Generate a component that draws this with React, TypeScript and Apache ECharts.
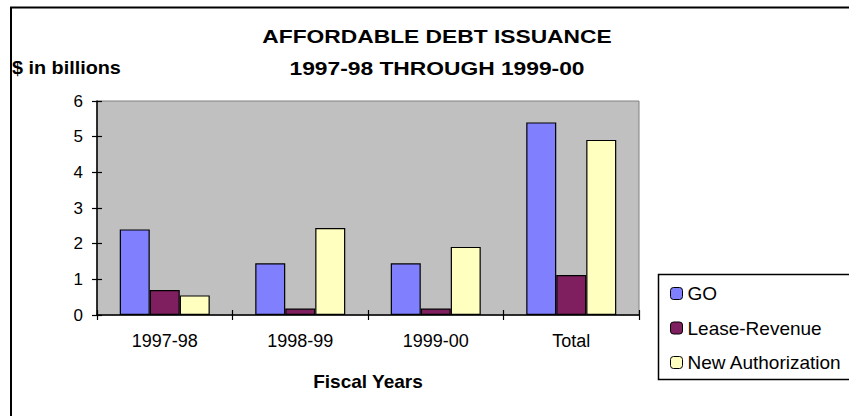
import React, { useEffect, useRef } from "react";
import * as echarts from "echarts";

const categories = ["1997-98", "1998-99", "1999-00", "Total"];
const goValues = [2.4, 1.45, 1.45, 5.4];
const leaseRevenueValues = [0.7, 0.18, 0.18, 1.12];
const newAuthorizationValues = [0.55, 2.44, 1.91, 4.91];
const seriesNames = ["GO", "Lease-Revenue", "New Authorization"];
const seriesColors = ["#8080ff", "#7f1f5f", "#ffffc0"];
const yMin = 0;
const yMax = 6;
const yInterval = 1;

const FONT = "Arial, 'Liberation Sans', sans-serif";

export default function App() {
  const ref = useRef<HTMLDivElement>(null);
  useEffect(() => {
    if (!ref.current) return;
    const chart = echarts.init(ref.current, null, { renderer: "svg" });
    const valuesList = [goValues, leaseRevenueValues, newAuthorizationValues];
    const barSeries = seriesNames.map((name, i) => ({
      name,
      type: "bar",
      xAxisIndex: 0,
      yAxisIndex: 0,
      data: valuesList[i],
      barWidth: 30,
      barGap: "0%",
      itemStyle: { color: seriesColors[i], borderColor: "#000", borderWidth: 1.2 },
    }));
    const option: any = {
      animation: false,
      backgroundColor: "#fff",
      textStyle: { fontFamily: FONT },
      grid: {
        left: 97,
        right: 210,
        top: 101,
        bottom: 101,
        show: true,
        backgroundColor: "#c0c0c0",
        borderColor: "#808080",
        borderWidth: 1,
      },
      legend: {
        orient: "vertical",
        left: 665,
        top: 279,
        itemWidth: 12,
        itemHeight: 12,
        itemGap: 15.5,
        data: seriesNames,
        itemStyle: { borderColor: "#000", borderWidth: 1 },
        textStyle: { fontSize: 19, color: "#000", fontFamily: FONT },
      },
      xAxis: [
        {
          type: "category",
          data: categories,
          position: "bottom",
          axisLine: { show: true, lineStyle: { color: "#000", width: 1.5 } },
          axisTick: { show: true, length: 5, lineStyle: { color: "#000", width: 1.2 } },
          axisLabel: { fontSize: 18, color: "#000", margin: 17, fontFamily: FONT },
          name: "Fiscal Years",
          nameLocation: "middle",
          nameGap: 57,
          nameTextStyle: { fontSize: 19, fontWeight: "bold", color: "#000", fontFamily: FONT },
          splitLine: { show: false },
        },
        {
          type: "category",
          data: categories,
          position: "bottom",
          axisLine: { show: false },
          axisTick: { show: true, inside: true, length: 5, lineStyle: { color: "#000", width: 1.2 } },
          axisLabel: { show: false },
          splitLine: { show: false },
        },
      ],
      yAxis: [
        {
          type: "value",
          position: "left",
          min: yMin,
          max: yMax,
          interval: yInterval,
          axisLine: { show: true, lineStyle: { color: "#000", width: 1.5 } },
          axisTick: { show: true, length: 5, lineStyle: { color: "#000", width: 1.2 } },
          axisLabel: { fontSize: 17, color: "#000", margin: 14, fontFamily: FONT },
          splitLine: { show: false },
        },
        {
          type: "value",
          position: "left",
          min: yMin,
          max: yMax,
          interval: yInterval,
          axisLine: { show: false },
          axisTick: { show: true, inside: true, length: 5, lineStyle: { color: "#000", width: 1.2 } },
          axisLabel: { show: false },
          splitLine: { show: false },
        },
      ],
      graphic: [
        {
          type: "rect",
          shape: { x: 11, y: 7.5, width: 900, height: 500 },
          style: { fill: "none", stroke: "#000", lineWidth: 2 },
          silent: true,
          z: -1,
        },
        {
          type: "rect",
          shape: { x: 658.5, y: 274.5, width: 300, height: 105 },
          style: { fill: "#fff", stroke: "#000", lineWidth: 1.5 },
          silent: true,
          z: -1,
        },
        {
          type: "text",
          x: 437,
          y: 36,
          scaleX: 1.2,
          style: {
            text: "AFFORDABLE DEBT ISSUANCE",
            fontSize: 19,
            fontWeight: "bold",
            fontFamily: FONT,
            fill: "#000",
            align: "center",
            verticalAlign: "middle",
            textAlign: "center",
            textVerticalAlign: "middle",
          },
        },
        {
          type: "text",
          x: 437,
          y: 68,
          scaleX: 1.2,
          style: {
            text: "1997-98 THROUGH 1999-00",
            fontSize: 19,
            fontWeight: "bold",
            fontFamily: FONT,
            fill: "#000",
            align: "center",
            verticalAlign: "middle",
            textAlign: "center",
            textVerticalAlign: "middle",
          },
        },
        {
          type: "text",
          x: 12,
          y: 68,
          scaleX: 1.1,
          style: {
            text: "$ in billions",
            fontSize: 18,
            fontWeight: "bold",
            fontFamily: FONT,
            fill: "#000",
            align: "left",
            verticalAlign: "middle",
            textAlign: "left",
            textVerticalAlign: "middle",
          },
        },
      ],
      series: barSeries,
    };
    chart.setOption(option);
    return () => chart.dispose();
  }, []);
  return (
    <div
      ref={ref}
      style={{ position: "fixed", left: 0, top: 0, width: 849, height: 416 }}
    />
  );
}
